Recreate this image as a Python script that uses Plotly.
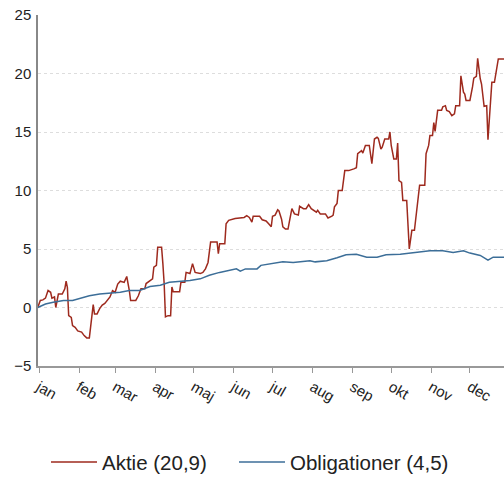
import pandas as pd
import plotly.graph_objects as go

# Day offsets from 1 January, values in percent
aktie_dag = [-1, 1, 3, 5, 7, 9, 10, 12, 13, 15, 18, 20, 21, 22, 23, 25, 26, 28, 30, 33, 35, 37, 39,
             41, 42, 43, 45, 47, 49, 51, 53, 55, 57, 59, 61, 63, 66, 68, 70, 71, 75, 77, 79, 82, 83,
             86, 88, 89, 91, 92, 95, 96, 97, 98, 100, 102, 103, 104, 109, 110, 113, 114, 117, 119,
             121, 125, 127, 129, 131, 133, 138, 139, 140, 144, 145, 147, 152, 159, 161, 163, 164,
             165, 166, 171, 173, 176, 178, 180, 181, 183, 185, 186, 188, 189, 191, 193, 194, 196,
             198, 201, 202, 205, 207, 209, 211, 213, 215, 216, 218, 222, 224, 227, 228, 229, 231,
             232, 235, 237, 240, 244, 246, 247, 249, 250, 251, 253, 256, 258, 260, 262, 263, 265,
             266, 268, 271, 272, 273, 275, 277, 278, 279, 281, 282, 285, 287, 289, 291, 292, 295,
             299, 300, 302, 303, 305, 306, 307, 309, 312, 313, 315, 316, 318, 320, 322, 323, 326,
             327, 329, 330, 331, 334, 336, 337, 339, 340, 342, 343, 345, 347, 348, 351, 353, 355,
             356, 363]
aktie_val = [0.0, 0.6, 0.65, 0.8, 1.45, 1.3, 0.8, 0.9, 0.0, 1.15, 1.15, 1.6, 2.25, 1.7, -0.7, -0.85,
             -1.55, -1.7, -2.0, -2.1, -2.4, -2.6, -2.6, -0.55, 0.25, -0.55, -0.55, -0.1, 0.2, 0.35,
             0.65, 0.9, 1.45, 1.3, 2.0, 2.25, 2.15, 2.65, 1.45, 0.6, 0.6, 1.0, 1.6, 1.6, 2.05, 2.3,
             2.45, 3.45, 3.6, 5.15, 5.15, 3.75, 2.05, -0.8, -0.7, -0.7, 1.75, 1.35, 1.35, 2.15, 2.15,
             3.0, 2.9, 3.75, 3.0, 2.9, 3.0, 3.3, 3.85, 5.6, 5.6, 4.6, 5.45, 5.45, 7.15, 7.45, 7.6,
             7.7, 7.85, 7.7, 7.55, 7.3, 7.8, 7.8, 7.5, 7.4, 7.15, 6.9, 7.8, 7.9, 8.35, 8.25, 7.55,
             6.9, 6.7, 6.7, 7.3, 8.45, 8.0, 7.9, 8.65, 8.45, 8.45, 8.8, 8.45, 8.3, 8.15, 8.3, 8.0,
             8.0, 7.65, 7.8, 7.9, 8.6, 8.9, 10.0, 10.0, 11.7, 11.7, 11.85, 11.95, 13.15, 13.3, 13.4,
             13.2, 13.85, 13.85, 12.3, 14.4, 14.55, 14.45, 13.55, 13.7, 14.4, 14.4, 15.0, 13.85,
             12.7, 12.7, 14.05, 10.85, 10.7, 9.15, 9.15, 5.0, 6.6, 6.6, 7.6, 10.45, 10.45, 13.15,
             13.85, 14.7, 14.7, 15.8, 15.05, 16.85, 16.85, 17.15, 17.25, 16.85, 16.75, 16.4, 16.55,
             17.25, 17.25, 19.8, 18.4, 18.25, 17.7, 17.7, 18.85, 19.6, 19.75, 21.3, 19.55, 19.1,
             17.2, 17.25, 14.35, 19.25, 19.25, 20.7, 21.25, 21.25]

oblig_dag = [-1, 5, 11, 19, 26, 31, 39, 47, 55, 63, 70, 78, 86, 94, 101, 109, 117, 125, 132, 140,
             148, 153, 156, 160, 163, 169, 172, 179, 189, 197, 210, 214, 223, 231, 238, 246, 254,
             262, 269, 280, 288, 295, 303, 313, 321, 329, 334, 342, 348, 352, 360, 363]
oblig_val = [0.0, 0.3, 0.45, 0.6, 0.6, 0.75, 1.0, 1.15, 1.2, 1.3, 1.45, 1.45, 1.8, 1.9, 2.15, 2.2,
             2.3, 2.45, 2.75, 3.0, 3.15, 3.3, 3.1, 3.3, 3.3, 3.3, 3.6, 3.75, 3.9, 3.85, 4.0, 3.9,
             4.0, 4.25, 4.5, 4.55, 4.3, 4.3, 4.5, 4.55, 4.65, 4.7, 4.85, 4.85, 4.7, 4.85, 4.65,
             4.45, 4.05, 4.3, 4.3, 4.3]

maaneder = ["jan", "feb", "mar", "apr", "maj", "jun", "jul", "aug", "sep", "okt", "nov", "dec"]
maaned_start = ["2019-%02d-01" % m for m in range(1, 13)]
y_ticks = [-5, 0, 5, 10, 15, 20, 25]

start = pd.Timestamp("2019-01-01")
aktie_x = start + pd.to_timedelta(aktie_dag, unit="D")
oblig_x = start + pd.to_timedelta(oblig_dag, unit="D")

fig = go.Figure()
fig.add_trace(go.Scatter(x=aktie_x, y=aktie_val, mode="lines", name="Aktie (20,9)",
                         line=dict(color="#9E2A1E", width=1.5), legend="legend"))
fig.add_trace(go.Scatter(x=oblig_x, y=oblig_val, mode="lines", name="Obligationer (4,5)",
                         line=dict(color="#3C6E98", width=1.5), legend="legend2"))

leg_common = dict(orientation="h", xref="container", yref="container", y=0.031,
                  xanchor="left", yanchor="middle", font=dict(size=20.5), itemwidth=46)

fig.update_layout(
    width=504, height=477,
    margin=dict(l=38, r=0, t=15, b=111),
    paper_bgcolor="white", plot_bgcolor="white",
    font=dict(family="Liberation Sans, Arial, sans-serif", color="#222222", size=15),
    showlegend=True,
    legend=dict(x=46 / 504, **leg_common),
    legend2=dict(x=234 / 504, **leg_common),
    xaxis=dict(
        range=["2018-12-31 05:00", "2019-12-27 10:00"],
        tickvals=maaned_start, ticktext=maaneder, tickangle=30,
        ticks="outside", ticklen=5, tickcolor="#999999",
        showline=True, linecolor="#999999", linewidth=1.5,
        showgrid=False, zeroline=False, tickfont=dict(size=15), automargin=False,
    ),
    yaxis=dict(
        range=[-5, 25], tickvals=y_ticks,
        showline=True, linecolor="#888888", linewidth=1.5,
        showgrid=True, gridcolor="#dddddd", griddash="dot", gridwidth=1,
        zeroline=False, ticks="", tickfont=dict(size=15), automargin=False,
        ticklabelstandoff=2,
    ),
)

# Remove the default page margin so the figure fills the window exactly
fig.write_html("out.html", config={"displayModeBar": False},
               post_script="document.body.style.margin='0';document.body.style.overflow='hidden';")
